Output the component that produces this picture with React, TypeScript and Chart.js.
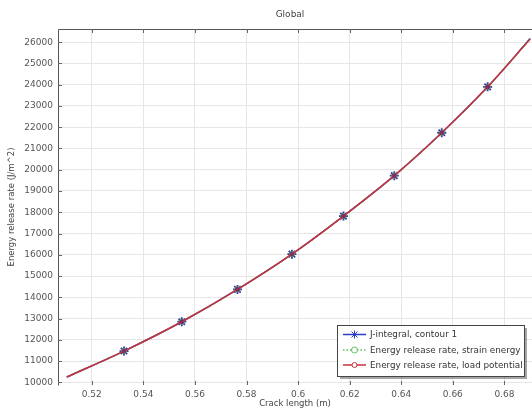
import React, { useEffect, useRef } from "react";
import { Chart, registerables } from "chart.js";

Chart.register(...registerables);

const crackLength = [0.5103, 0.5325, 0.5549, 0.5765, 0.5976, 0.6176, 0.6373, 0.6557, 0.6735, 0.69];
const jIntegral = [10250, 11470, 12850, 14370, 16030, 17820, 19720, 21740, 23900, 26170];
const strainEnergy = [10250, 11470, 12850, 14370, 16030, 17820, 19720, 21740, 23900, 26160];
const loadPotential = [10250, 11470, 12850, 14370, 16030, 17820, 19720, 21740, 23900, 26150];
const markerShown = [false, true, true, true, true, true, true, true, true, false];

const xTickValues = [0.52, 0.54, 0.56, 0.58, 0.6, 0.62, 0.64, 0.66, 0.68];
const yTickValues = [10000, 11000, 12000, 13000, 14000, 15000, 16000, 17000, 18000, 19000, 20000, 21000, 22000, 23000, 24000, 25000, 26000];
const xTickLabels = ["0.52", "0.54", "0.56", "0.58", "0.6", "0.62", "0.64", "0.66", "0.68"];

const seriesNames = [
  "J-integral, contour 1",
  "Energy release rate, strain energy",
  "Energy release rate, load potential",
];
const chartTitle = "Global";
const xTitle = "Crack length (m)";
const yTitle = "Energy release rate (J/m^2)";

const BLUE = "#2b3fc8";
const GREEN = "#5cc15c";
const RED = "#c8323c";
const FONT = "'DejaVu Sans', sans-serif";

const toPts = (ys: number[]) => crackLength.map((x, i) => ({ x, y: ys[i] }));

const framePlugin = {
  id: "frame",
  afterDraw(chart: any) {
    const { ctx, chartArea: a } = chart;
    const xs = chart.scales.x;
    const ys = chart.scales.y;
    ctx.save();
    ctx.strokeStyle = "#555";
    ctx.lineWidth = 1;
    ctx.beginPath();
    ctx.moveTo(a.left + 0.5, a.bottom + 0.5);
    ctx.lineTo(a.left + 0.5, a.top + 0.5);
    ctx.lineTo(a.right + 0.5, a.top + 0.5);
    ctx.stroke();
    ctx.strokeStyle = "#666";
    ctx.beginPath();
    xs.ticks.forEach((t: any) => {
      const px = Math.round(xs.getPixelForValue(t.value)) + 0.5;
      ctx.moveTo(px, a.top);
      ctx.lineTo(px, a.top + 4);
      ctx.moveTo(px, a.bottom);
      ctx.lineTo(px, a.bottom - 4);
    });
    ys.ticks.forEach((t: any) => {
      const py = Math.round(ys.getPixelForValue(t.value)) + 0.5;
      ctx.moveTo(a.left, py);
      ctx.lineTo(a.left + 4, py);
    });
    ctx.stroke();
    ctx.fillStyle = "#444";
    ctx.font = `9px ${FONT}`;
    ctx.textAlign = "center";
    ctx.textBaseline = "middle";
    ctx.fillText(chartTitle, 290, 15);

    const lx = 337, ly = 325, lw = 187, lh = 51;
    ctx.fillStyle = "rgba(0,0,0,0.35)";
    ctx.fillRect(lx + 3, ly + 3, lw, lh);
    ctx.fillStyle = "#fff";
    ctx.fillRect(lx, ly, lw, lh);
    ctx.strokeStyle = "#444";
    ctx.strokeRect(lx + 0.5, ly + 0.5, lw, lh);
    const rows = [334.5, 350, 365];
    const colors = [BLUE, GREEN, RED];
    ctx.font = `8.8px ${FONT}`;
    ctx.textAlign = "left";
    rows.forEach((ry, i) => {
      ctx.strokeStyle = colors[i];
      ctx.lineWidth = 1.5;
      ctx.setLineDash(i === 1 ? [1.5, 2] : []);
      ctx.beginPath();
      ctx.moveTo(343, ry);
      ctx.lineTo(366, ry);
      ctx.stroke();
      ctx.setLineDash([]);
      const cx = 354.5;
      ctx.lineWidth = 1;
      if (i === 0) {
        ctx.beginPath();
        ctx.moveTo(cx - 3, ry - 3); ctx.lineTo(cx + 3, ry + 3);
        ctx.moveTo(cx + 3, ry - 3); ctx.lineTo(cx - 3, ry + 3);
        ctx.moveTo(cx, ry - 4); ctx.lineTo(cx, ry + 4);
        ctx.stroke();
      } else {
        ctx.fillStyle = "#fff";
        ctx.beginPath();
        ctx.arc(cx, ry, i === 1 ? 3 : 2.5, 0, Math.PI * 2);
        ctx.fill();
        ctx.stroke();
      }
      ctx.fillStyle = "#333";
      ctx.fillText(seriesNames[i], 370, ry + 0.5);
    });
    ctx.restore();
  },
};

export default function App() {
  const ref = useRef<HTMLCanvasElement>(null);
  useEffect(() => {
    document.body.style.margin = "0";
    const chart = new Chart(ref.current!, {
      type: "line",
      data: {
        datasets: [
          {
            label: seriesNames[0],
            data: toPts(jIntegral),
            borderColor: BLUE,
            backgroundColor: BLUE,
            borderWidth: 1.5,
            pointStyle: "star",
            pointRadius: markerShown.map((m) => (m ? 4.5 : 0)),
            pointBorderColor: "#2f3aa8",
            pointBorderWidth: 1.8,
            cubicInterpolationMode: "monotone",
            order: 2,
          },
          {
            label: seriesNames[1],
            data: toPts(strainEnergy),
            borderColor: GREEN,
            backgroundColor: "rgba(255,255,255,0)",
            borderWidth: 1.5,
            borderDash: [2, 2],
            pointStyle: "circle",
            pointRadius: markerShown.map((m) => (m ? 2.5 : 0)),
            pointBorderColor: GREEN,
            pointBorderWidth: 1,
            cubicInterpolationMode: "monotone",
            order: 1,
          },
          {
            label: seriesNames[2],
            data: toPts(loadPotential),
            borderColor: RED,
            backgroundColor: "rgba(120,40,90,0.6)",
            borderWidth: 1.5,
            pointStyle: "circle",
            pointRadius: markerShown.map((m) => (m ? 2 : 0)),
            pointBorderColor: "#8a2a5a",
            pointBorderWidth: 1,
            cubicInterpolationMode: "monotone",
            order: 0,
          },
        ],
      },
      options: {
        animation: false,
        responsive: false,
        layout: { padding: { top: 29, left: 0, right: 0, bottom: 0 } },
        plugins: {
          legend: { display: false },
          title: { display: false },
          tooltip: { enabled: false },
        },
        scales: {
          x: {
            type: "linear",
            min: 0.5069,
            max: 0.6907,
            afterFit: (s: any) => { s.height = 26; },
            afterBuildTicks: (s: any) => { s.ticks = xTickValues.map((v) => ({ value: v })); },
            grid: { color: "#e6e6e6", drawTicks: false },
            border: { display: false },
            ticks: {
              padding: 4,
              color: "#555",
              font: { family: FONT, size: 9 },
              maxRotation: 0,
              autoSkip: false,
              callback: (v: any, i: number) => xTickLabels[i],
            },
            title: {
              display: true,
              text: xTitle,
              color: "#444",
              font: { family: FONT, size: 8.5 },
              padding: { top: 0, bottom: 2 },
            },
          },
          y: {
            type: "linear",
            min: 9873,
            max: 26621,
            afterFit: (s: any) => { s.width = 58; },
            afterBuildTicks: (s: any) => { s.ticks = yTickValues.map((v) => ({ value: v })); },
            grid: { color: "#e6e6e6", drawTicks: false },
            border: { display: false },
            ticks: {
              padding: 5,
              color: "#555",
              autoSkip: false,
              font: { family: FONT, size: 9 },
              callback: (v: any) => String(Math.round(Number(v))),
            },
            title: {
              display: true,
              text: yTitle,
              color: "#444",
              font: { family: FONT, size: 8.5 },
              padding: { top: 7, bottom: 0 },
            },
          },
        },
      },
      plugins: [framePlugin],
    } as any);
    return () => chart.destroy();
  }, []);
  return (
    <div style={{ width: 532, height: 411 }}>
      <canvas ref={ref} width={532} height={411} style={{ display: "block" }} />
    </div>
  );
}
